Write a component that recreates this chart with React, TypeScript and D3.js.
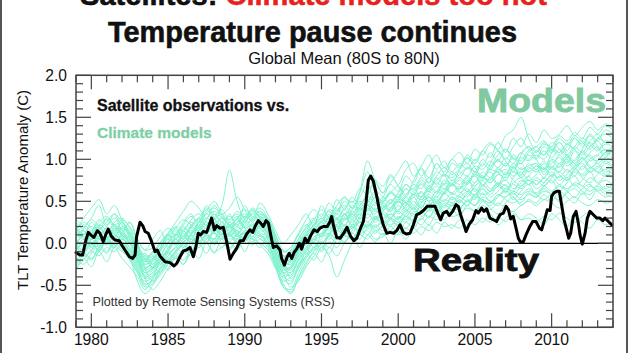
import React from 'react';
import * as d3 from 'd3';

const W = 628;
const H = 353;

const xTickYears = [1980, 1985, 1990, 1995, 2000, 2005, 2010];
const yTickValues = [-1, -0.5, 0, 0.5, 1, 1.5, 2];
const yTickLabels = ['-1.0', '-0.5', '0.0', '0.5', '1.0', '1.5', '2.0'];

// RSS TLT (smoothed) observations
const rssYears = [
  1979.0, 1979.26, 1979.43, 1979.65, 1979.8, 1980.02, 1980.17, 1980.39, 1980.56, 1980.78, 1980.93,
  1981.1, 1981.32, 1981.54, 1981.82, 1981.98, 1982.19, 1982.48, 1982.69, 1982.85, 1982.95,
  1983.17, 1983.35, 1983.5, 1983.71, 1983.93, 1984.15, 1984.3, 1984.47, 1984.8, 1985.13,
  1985.39, 1985.56, 1985.78, 1986.0, 1986.21, 1986.43, 1986.65, 1986.82, 1986.97, 1987.12,
  1987.3, 1987.52, 1987.69, 1987.84, 1988.02, 1988.17, 1988.39, 1988.6, 1988.82, 1989.04,
  1989.25, 1989.47, 1989.69, 1989.9, 1990.12, 1990.34, 1990.52, 1990.67, 1990.88, 1991.04,
  1991.21, 1991.38, 1991.54, 1991.69, 1991.86, 1992.08, 1992.3, 1992.4, 1992.58, 1992.77,
  1992.9, 1993.06, 1993.21, 1993.38, 1993.56, 1993.71, 1993.93, 1994.1, 1994.32, 1994.51,
  1994.73, 1994.9, 1995.12, 1995.38, 1995.56, 1995.66, 1995.8, 1995.99, 1996.21, 1996.45,
  1996.66, 1996.88, 1997.1, 1997.3, 1997.52, 1997.73, 1997.9, 1998.05, 1998.21, 1998.38,
  1998.58, 1998.79, 1999.01, 1999.25, 1999.48, 1999.7, 1999.9, 2000.12, 2000.33, 2000.55,
  2000.77, 2000.99, 2001.2, 2001.42, 2001.64, 2001.9, 2002.18, 2002.4, 2002.62, 2002.77,
  2002.94, 2003.16, 2003.33, 2003.55, 2003.77, 2003.92, 2004.07, 2004.25, 2004.42, 2004.64,
  2004.85, 2005.07, 2005.22, 2005.44, 2005.59, 2005.76, 2005.98, 2006.2, 2006.42, 2006.63,
  2006.85, 2007.03, 2007.18, 2007.33, 2007.5, 2007.68, 2007.83, 2007.98, 2008.16, 2008.33,
  2008.55, 2008.77, 2008.98, 2009.2, 2009.35, 2009.57, 2009.72, 2009.9, 2010.0, 2010.15,
  2010.33, 2010.5, 2010.65, 2010.81, 2010.98, 2011.11, 2011.24, 2011.41, 2011.59, 2011.74,
  2011.85, 2012.0, 2012.18, 2012.33, 2012.5, 2012.72, 2012.94, 2013.15, 2013.33, 2013.48,
  2013.7, 2013.91,
];
const rssValues = [
  -0.11, -0.14, -0.14, 0.04, 0.13, 0.09, 0.07, 0.15, 0.12, 0.02, 0.1,
  0.17, 0.08, 0.04, 0.03, -0.02, -0.08, -0.16, -0.18, -0.14, 0.08,
  0.25, 0.21, 0.14, 0.12, 0.02, -0.1, -0.08, -0.15, -0.22, -0.23,
  -0.27, -0.24, -0.16, -0.09, -0.08, -0.05, -0.16, -0.04, 0.12, 0.1,
  0.14, 0.13, 0.22, 0.3, 0.16, 0.21, 0.18, 0.19, 0.02, -0.19,
  -0.12, -0.06, 0.03, 0.03, 0.11, 0.16, 0.13, 0.2, 0.27, 0.24,
  0.2, 0.27, 0.24, 0.1, -0.05, -0.03, -0.08, -0.18, -0.26, -0.16,
  -0.12, -0.18, -0.11, -0.07, 0.0, -0.07, 0.06, 0.01, 0.1, 0.16,
  0.14, 0.18, 0.2, 0.2, 0.26, 0.32, 0.2, 0.07, 0.06, 0.12,
  0.19, 0.09, 0.03, 0.06, 0.17, 0.26, 0.48, 0.75, 0.8, 0.74,
  0.58, 0.38, 0.23, 0.12, 0.13, 0.12, 0.15, 0.22, 0.13, 0.11,
  0.12, 0.22, 0.34, 0.36, 0.39, 0.44, 0.44, 0.44, 0.34, 0.28,
  0.36, 0.38, 0.33, 0.38, 0.46, 0.44, 0.34, 0.24, 0.14, 0.23,
  0.28, 0.39, 0.36, 0.42, 0.38, 0.41, 0.3, 0.28, 0.26, 0.34,
  0.36, 0.44, 0.4, 0.29, 0.32, 0.18, 0.06, 0.01, 0.02, 0.1,
  0.19, 0.26, 0.26, 0.18, 0.16, 0.3, 0.4, 0.39, 0.56, 0.6,
  0.62, 0.62, 0.46, 0.28, 0.16, 0.06, 0.12, 0.32, 0.38, 0.24,
  0.1, -0.01, 0.12, 0.3, 0.38, 0.34, 0.3, 0.3, 0.27, 0.3,
  0.26, 0.22,
];

// Climate model runs, half-yearly from 1979.0 to 2014.0
const modelStartYear = 1979;
const modelStep = 0.5;
const modelA = [
  0.10, 0.22, 0.15, 0.28, 0.20, 0.12, 0.25, 0.05, -0.10, -0.30,
  -0.20, -0.05, 0.10, 0.18, 0.05, 0.20, 0.30, 0.22, 0.35, 0.25,
  0.20, 0.30, 0.35, 0.28, 0.38, 0.25, 0.05, -0.15, -0.10, 0.05,
  0.20, 0.30, 0.25, 0.40, 0.35, 0.50, 0.42, 0.55, 0.70, 0.50,
  0.55, 0.70, 0.62, 0.80, 0.72, 0.90, 0.78, 0.95, 0.85, 1.00,
  0.92, 1.05, 0.98, 1.10, 1.02, 1.20, 1.08, 1.25, 1.15, 1.30,
  1.20, 1.35, 1.25, 1.30, 1.40, 1.28, 1.38, 1.45, 1.35, 1.42, 1.38,
];
const modelB = [
  -0.25, -0.15, -0.20, -0.05, -0.12, 0.00, -0.08, -0.20, -0.35, -0.45,
  -0.40, -0.30, -0.20, -0.25, -0.10, -0.15, -0.05, 0.00, -0.10, -0.05,
  0.00, -0.08, 0.05, -0.02, 0.05, -0.05, -0.25, -0.40, -0.35, -0.25,
  -0.15, -0.05, -0.10, 0.02, -0.05, 0.08, 0.05, 0.10, 0.15, 0.05,
  0.08, 0.15, 0.10, 0.18, 0.12, 0.20, 0.15, 0.25, 0.20, 0.22,
  0.18, 0.28, 0.22, 0.30, 0.25, 0.32, 0.26, 0.35, 0.28, 0.30,
  0.25, 0.32, 0.28, 0.36, 0.30, 0.25, 0.32, 0.38, 0.30, 0.28, 0.32,
];
const modelC = [
  0.05, -0.05, 0.12, 0.20, 0.08, 0.15, 0.18, 0.10, -0.15, -0.35,
  -0.30, -0.15, -0.10, 0.05, 0.12, 0.02, 0.15, 0.25, 0.18, 0.10,
  0.20, 0.15, 0.10, 0.22, 0.25, 0.15, -0.10, -0.30, -0.28, -0.10,
  0.05, 0.15, 0.08, 0.20, 0.28, 0.15, 0.22, 0.35, 0.30, 0.42,
  0.35, 0.30, 0.45, 0.38, 0.50, 0.42, 0.55, 0.48, 0.60, 0.52,
  0.58, 0.65, 0.55, 0.70, 0.62, 0.68, 0.75, 0.65, 0.72, 0.80,
  0.70, 0.78, 0.85, 0.75, 0.82, 0.90, 0.80, 0.88, 0.95, 0.85, 0.90,
];
const modelD = [
  -0.15, -0.05, 0.05, -0.02, 0.10, 0.15, 0.05, 0.00, -0.20, -0.40,
  -0.35, -0.25, -0.15, -0.05, 0.05, 0.15, 0.08, 0.20, 0.25, 0.15,
  0.10, 0.18, 0.25, 0.15, 0.20, 0.10, -0.15, -0.35, -0.30, -0.15,
  -0.05, 0.08, 0.12, 0.25, 0.15, 0.28, 0.35, 0.25, 0.40, 0.35,
  0.45, 0.38, 0.50, 0.42, 0.55, 0.60, 0.50, 0.62, 0.58, 0.70,
  0.65, 0.72, 0.80, 0.70, 0.78, 0.85, 0.75, 0.90, 0.82, 0.95,
  0.88, 0.98, 0.90, 1.05, 0.95, 1.10, 1.00, 1.08, 1.15, 1.05, 1.10,
];
const modelE = [
  0.20, 0.10, 0.25, 0.15, 0.30, 0.22, 0.15, 0.05, -0.05, -0.20,
  -0.15, -0.25, -0.10, 0.05, -0.05, 0.10, 0.20, 0.15, 0.30, 0.40,
  0.28, 0.35, 0.25, 0.38, 0.30, 0.20, 0.00, -0.20, -0.25, -0.05,
  0.10, 0.02, 0.20, 0.15, 0.30, 0.20, 0.38, 0.30, 0.45, 0.40,
  0.30, 0.42, 0.50, 0.40, 0.35, 0.48, 0.55, 0.45, 0.60, 0.70,
  0.62, 0.55, 0.68, 0.75, 0.65, 0.72, 0.60, 0.78, 0.85, 0.75,
  0.82, 0.90, 0.80, 0.95, 0.85, 0.92, 1.02, 0.90, 0.98, 1.08, 1.00,
];
const modelF = [
  -0.10, 0.00, -0.08, 0.05, 0.15, 0.08, 0.20, 0.12, -0.05, -0.25,
  -0.18, -0.08, 0.05, 0.00, 0.15, 0.25, 0.18, 0.35, 0.28, 0.45,
  0.87, 0.50, 0.30, 0.40, 0.32, 0.28, 0.05, -0.15, -0.20, -0.08,
  0.08, 0.20, 0.30, 0.22, 0.35, 0.28, 0.40, 0.50, 0.45, 0.55,
  0.48, 0.60, 0.52, 0.65, 0.58, 0.70, 0.62, 0.78, 0.70, 0.85,
  0.78, 0.90, 0.82, 0.95, 0.88, 1.00, 0.92, 1.05, 0.98, 1.10,
  1.02, 1.15, 1.08, 1.20, 1.10, 1.25, 1.15, 1.22, 1.30, 1.20, 1.25,
];
const modelG = [
  0.00, 0.08, -0.05, 0.10, 0.05, -0.02, 0.08, -0.15, -0.45, -0.60,
  -0.50, -0.35, -0.20, -0.10, 0.00, -0.08, 0.05, 0.12, 0.05, 0.15,
  0.08, 0.15, 0.05, 0.12, 0.18, 0.05, -0.25, -0.50, -0.55, -0.35,
  -0.18, -0.05, 0.05, 0.12, 0.05, 0.18, 0.12, 0.25, 0.20, 0.30,
  0.25, 0.35, 0.28, 0.40, 0.32, 0.45, 0.38, 0.50, 0.42, 0.55,
  0.48, 0.60, 0.52, 0.65, 0.55, 0.62, 0.70, 0.58, 0.68, 0.75,
  0.65, 0.72, 0.80, 0.70, 0.78, 0.68, 0.75, 0.85, 0.72, 0.80, 0.78,
];
const modelH = [
  -0.30, -0.20, -0.10, -0.15, -0.05, -0.10, 0.00, -0.12, -0.30, -0.42,
  -0.38, -0.20, -0.12, -0.18, -0.05, 0.05, -0.02, 0.10, 0.02, 0.12,
  0.05, 0.10, 0.20, 0.12, 0.08, 0.00, -0.20, -0.38, -0.45, -0.30,
  -0.12, -0.20, -0.05, -0.15, -0.40, -0.20, 0.00, 0.10, 0.05, 0.15,
  0.10, 0.20, 0.12, 0.25, 0.18, 0.30, 0.22, 0.35, 0.28, 0.40,
  0.32, 0.45, 0.38, 0.50, 0.42, 0.35, 0.48, 0.55, 0.45, 0.52,
  0.48, 0.58, 0.50, 0.62, 0.55, 0.48, 0.60, 0.52, 0.65, 0.58, 0.55,
];
const modelI = [
  0.15, 0.25, 0.18, 0.08, 0.20, 0.30, 0.22, 0.12, -0.10, -0.20,
  -0.10, 0.00, 0.10, 0.05, 0.18, 0.12, 0.25, 0.40, 0.30, 0.20,
  0.15, 0.25, 0.32, 0.40, 0.30, 0.22, 0.00, -0.18, -0.15, 0.00,
  0.12, 0.25, 0.18, 0.30, 0.25, 0.35, 0.40, 0.60, 0.85, 0.60,
  0.45, 0.38, 0.50, 0.45, 0.58, 0.52, 0.65, 0.60, 0.72, 0.68,
  0.75, 0.70, 0.82, 0.78, 0.88, 0.85, 0.95, 0.90, 1.02, 0.98,
  1.05, 1.00, 1.12, 1.08, 1.18, 1.12, 1.05, 1.15, 1.22, 1.10, 1.15,
];
const modelJ = [
  0.05, -0.02, 0.10, 0.18, 0.12, 0.22, 0.10, 0.02, -0.18, -0.30,
  -0.22, -0.10, 0.02, 0.10, 0.20, 0.12, 0.25, 0.18, 0.28, 0.35,
  0.25, 0.32, 0.20, 0.30, 0.38, 0.28, 0.02, -0.22, -0.18, -0.02,
  0.10, 0.22, 0.30, 0.25, 0.38, 0.45, 0.35, 0.48, 0.40, 0.55,
  0.50, 0.62, 0.55, 0.70, 0.65, 0.78, 0.72, 0.85, 0.80, 0.95,
  0.90, 1.02, 0.95, 1.10, 1.20, 1.12, 1.28, 1.35, 1.50, 1.25,
  1.10, 1.20, 1.15, 1.28, 1.22, 1.32, 1.25, 1.38, 1.30, 1.40, 1.35,
];
const modelK = [
  -0.20, -0.10, -0.02, 0.08, 0.00, -0.05, 0.10, 0.02, -0.15, -0.35,
  -0.28, -0.15, -0.20, -0.08, 0.02, 0.10, 0.02, 0.12, 0.20, 0.08,
  0.02, 0.10, 0.05, 0.15, 0.10, 0.02, -0.18, -0.32, -0.28, -0.15,
  0.00, 0.05, 0.12, 0.05, 0.15, 0.10, 0.20, 0.15, 0.25, 0.32,
  0.28, 0.22, 0.32, 0.28, 0.38, 0.35, 0.42, 0.38, 0.48, 0.45,
  0.50, 0.45, 0.55, 0.52, 0.48, 0.58, 0.55, 0.62, 0.58, 0.65,
  0.60, 0.68, 0.62, 0.70, 0.65, 0.72, 0.68, 0.62, 0.70, 0.75, 0.70,
];
const modelL = [
  0.10, 0.18, 0.28, 0.20, 0.12, 0.25, 0.30, 0.18, 0.00, -0.15,
  -0.12, 0.02, 0.12, 0.20, 0.15, 0.28, 0.35, 0.25, 0.18, 0.30,
  0.22, 0.15, 0.28, 0.35, 0.25, 0.18, -0.02, -0.25, -0.22, -0.05,
  0.08, 0.18, 0.25, 0.35, 0.28, 0.40, 0.32, 0.45, 0.55, 0.48,
  0.42, 0.52, 0.48, 0.58, 0.65, 0.55, 0.68, 0.62, 0.75, 0.70,
  0.78, 0.72, 0.85, 0.80, 0.75, 0.88, 0.82, 0.95, 0.88, 0.92,
  0.95, 0.88, 1.00, 0.95, 1.05, 0.98, 1.10, 1.02, 0.98, 1.08, 1.05,
];
const modelM = [
  -0.05, -0.12, 0.00, -0.08, 0.05, 0.12, 0.00, -0.10, -0.28, -0.50,
  -0.42, -0.28, -0.15, -0.05, -0.12, 0.00, 0.08, 0.02, 0.12, 0.05,
  0.12, 0.02, 0.08, 0.15, 0.05, 0.00, -0.20, -0.42, -0.48, -0.25,
  -0.10, 0.00, -0.08, 0.10, 0.05, 0.15, 0.20, 0.12, 0.22, 0.18,
  0.25, 0.20, 0.30, 0.25, 0.35, 0.28, 0.40, 0.35, 0.45, 0.40,
  0.42, 0.50, 0.45, 0.55, 0.50, 0.45, 0.55, 0.60, 0.52, 0.58,
  0.55, 0.62, 0.58, 0.50, 0.60, 0.65, 0.58, 0.68, 0.62, 0.55, 0.60,
];
const modelN = [
  0.25, 0.15, 0.05, 0.15, 0.25, 0.35, 0.25, 0.15, -0.02, -0.18,
  -0.10, -0.02, 0.08, 0.18, 0.28, 0.22, 0.15, 0.28, 0.38, 0.30,
  0.22, 0.30, 0.40, 0.32, 0.25, 0.20, -0.05, -0.20, -0.12, 0.02,
  0.15, 0.28, 0.20, 0.32, 0.42, 0.35, 0.30, 0.42, 0.50, 0.62,
  0.55, 0.48, 0.60, 0.70, 0.62, 0.75, 0.68, 0.80, 0.90, 0.82,
  0.88, 0.95, 0.85, 1.00, 0.92, 1.05, 1.12, 1.00, 1.08, 1.15,
  1.08, 1.18, 1.12, 1.05, 1.15, 1.25, 1.18, 1.30, 1.22, 1.35, 1.30,
];
const modelO = [
  -0.12, -0.05, 0.05, 0.12, 0.02, 0.08, 0.15, 0.00, -0.22, -0.38,
  -0.32, -0.18, -0.08, 0.02, 0.08, 0.18, 0.10, 0.05, 0.15, 0.22,
  0.15, 0.08, 0.15, 0.22, 0.12, 0.08, -0.12, -0.30, -0.35, -0.18,
  -0.05, 0.05, 0.18, 0.10, 0.22, 0.30, 0.22, 0.28, 0.35, 0.28,
  0.35, 0.30, 0.40, 0.48, 0.40, 0.50, 0.45, 0.55, 0.50, 0.60,
  0.55, 0.62, 0.58, 0.68, 0.62, 0.72, 0.68, 0.62, 0.75, 0.70,
  0.78, 0.72, 0.82, 0.78, 0.88, 0.80, 0.92, 0.85, 0.90, 0.98, 0.92,
];
const modelP = [
  0.08, 0.15, 0.05, 0.20, 0.28, 0.18, 0.10, 0.00, -0.12, -0.28,
  -0.25, -0.15, 0.00, 0.12, 0.05, 0.20, 0.15, 0.30, 0.22, 0.12,
  0.20, 0.28, 0.18, 0.25, 0.32, 0.20, -0.08, -0.28, -0.20, -0.10,
  0.05, 0.15, 0.25, 0.18, 0.30, 0.22, 0.35, 0.42, 0.38, 0.48,
  0.40, 0.48, 0.58, 0.50, 0.60, 0.55, 0.65, 0.72, 0.65, 0.75,
  0.70, 0.80, 0.72, 0.85, 0.78, 0.90, 0.82, 0.88, 0.95, 0.85,
  0.92, 0.85, 0.98, 0.90, 1.02, 0.95, 0.88, 1.00, 1.05, 0.95, 1.00,
];
const modelQ = [
  -0.18, -0.25, -0.12, -0.02, -0.10, 0.05, -0.05, -0.15, -0.32, -0.48,
  -0.45, -0.30, -0.22, -0.12, -0.02, -0.10, 0.02, 0.08, -0.02, 0.08,
  0.02, -0.05, 0.08, 0.02, 0.10, -0.02, -0.22, -0.45, -0.40, -0.28,
  -0.15, -0.08, 0.02, -0.05, 0.08, 0.02, 0.12, 0.05, 0.18, 0.12,
  0.20, 0.15, 0.25, 0.18, 0.28, 0.22, 0.32, 0.28, 0.38, 0.32,
  0.35, 0.42, 0.38, 0.45, 0.40, 0.48, 0.42, 0.38, 0.45, 0.50,
  0.45, 0.52, 0.48, 0.42, 0.50, 0.55, 0.48, 0.45, 0.52, 0.48, 0.50,
];
const modelR = [
  0.18, 0.08, 0.15, 0.25, 0.32, 0.22, 0.28, 0.20, 0.05, -0.08,
  -0.05, 0.08, 0.18, 0.10, 0.22, 0.32, 0.25, 0.35, 0.42, 0.32,
  0.28, 0.38, 0.30, 0.42, 0.35, 0.28, 0.08, -0.10, -0.05, 0.10,
  0.22, 0.15, 0.28, 0.38, 0.30, 0.42, 0.50, 0.40, 0.48, 0.58,
  0.50, 0.60, 0.68, 0.58, 0.70, 0.65, 0.78, 0.70, 0.82, 0.78,
  0.85, 0.80, 0.92, 0.88, 0.98, 0.90, 1.02, 0.95, 1.08, 1.00,
  1.10, 1.05, 1.15, 1.08, 1.18, 1.12, 1.22, 1.15, 1.25, 1.20, 1.22,
];
const modelS = [
  -0.08, 0.02, 0.12, 0.05, -0.02, 0.10, 0.02, -0.08, -0.25, -0.40,
  -0.35, -0.22, -0.12, -0.05, 0.08, 0.02, 0.12, 0.22, 0.12, 0.05,
  0.12, 0.20, 0.12, 0.05, 0.15, 0.08, -0.15, -0.35, -0.38, -0.20,
  -0.08, 0.02, 0.10, 0.20, 0.12, 0.22, 0.18, 0.30, 0.25, 0.20,
  0.28, 0.35, 0.30, 0.38, 0.45, 0.38, 0.48, 0.42, 0.52, 0.48,
  0.55, 0.50, 0.58, 0.65, 0.58, 0.68, 0.62, 0.70, 0.65, 0.75,
  0.70, 0.78, 0.72, 0.80, 0.75, 0.85, 0.78, 0.72, 0.82, 0.88, 0.82,
];
const modelT = [
  0.02, 0.10, 0.20, 0.12, 0.05, 0.18, 0.12, 0.05, -0.12, -0.25,
  -0.20, -0.08, 0.05, -0.02, 0.10, 0.18, 0.28, 0.20, 0.12, 0.25,
  0.18, 0.25, 0.32, 0.25, 0.18, 0.12, -0.10, -0.25, -0.30, -0.12,
  0.02, 0.12, 0.08, 0.22, 0.18, 0.30, 0.25, 0.35, 0.42, 0.38,
  0.45, 0.40, 0.52, 0.48, 0.42, 0.55, 0.62, 0.55, 0.65, 0.60,
  0.68, 0.62, 0.72, 0.80, 0.72, 0.82, 0.78, 0.85, 0.80, 0.90,
  0.85, 0.95, 0.88, 0.92, 1.00, 0.92, 0.98, 1.05, 0.95, 1.02, 0.98,
];
const modelU = [
  -0.22, -0.12, -0.18, -0.05, 0.05, -0.02, -0.10, -0.18, -0.35, -0.52,
  -0.48, -0.32, -0.25, -0.15, -0.08, 0.02, -0.05, 0.05, 0.12, 0.02,
  -0.05, 0.05, 0.12, 0.05, 0.00, -0.08, -0.28, -0.52, -0.58, -0.40,
  -0.22, -0.10, 0.00, 0.08, 0.00, 0.10, 0.05, 0.15, 0.22, 0.15,
  0.22, 0.30, 0.25, 0.32, 0.28, 0.38, 0.32, 0.40, 0.35, 0.45,
  0.42, 0.50, 0.45, 0.52, 0.48, 0.58, 0.52, 0.48, 0.55, 0.62,
  0.58, 0.52, 0.60, 0.68, 0.62, 0.55, 0.65, 0.70, 0.62, 0.68, 0.65,
];
const modelV = [
  0.28, 0.20, 0.12, 0.22, 0.15, 0.08, 0.18, 0.08, -0.08, -0.22,
  -0.18, -0.05, 0.05, 0.15, 0.08, 0.22, 0.30, 0.42, 0.35, 0.25,
  0.32, 0.22, 0.28, 0.20, 0.30, 0.22, 0.00, -0.15, -0.20, -0.02,
  0.12, 0.22, 0.35, 0.28, 0.40, 0.32, 0.45, 0.38, 0.50, 0.45,
  0.52, 0.60, 0.55, 0.65, 0.58, 0.72, 0.65, 0.75, 0.82, 0.75,
  0.82, 0.90, 0.85, 0.78, 0.90, 0.98, 0.92, 1.02, 0.95, 1.05,
  1.00, 1.10, 1.02, 1.12, 1.05, 1.15, 1.08, 1.20, 1.12, 1.18, 1.15,
];
const modelW = [
  -0.02, -0.10, -0.18, -0.08, 0.02, -0.05, 0.05, -0.05, -0.20, -0.32,
  -0.28, -0.35, -0.18, -0.10, 0.00, 0.08, 0.00, 0.10, 0.05, 0.18,
  0.10, 0.05, 0.12, 0.18, 0.10, 0.05, -0.12, -0.28, -0.32, -0.20,
  -0.08, 0.05, 0.00, 0.12, 0.20, 0.12, 0.18, 0.25, 0.20, 0.30,
  0.22, 0.30, 0.38, 0.32, 0.42, 0.35, 0.45, 0.52, 0.45, 0.55,
  0.50, 0.58, 0.65, 0.58, 0.62, 0.70, 0.65, 0.72, 0.78, 0.70,
  0.75, 0.68, 0.78, 0.85, 0.78, 0.88, 0.82, 0.90, 0.85, 0.80, 0.85,
];
const modelX = [
  0.12, 0.05, -0.02, 0.08, 0.18, 0.10, 0.02, -0.08, -0.20, -0.35,
  -0.30, -0.20, -0.05, 0.08, 0.15, 0.05, 0.18, 0.12, 0.22, 0.30,
  0.22, 0.12, 0.22, 0.28, 0.20, 0.15, -0.05, -0.22, -0.25, -0.08,
  0.05, 0.12, 0.22, 0.30, 0.22, 0.35, 0.28, 0.38, 0.45, 0.40,
  0.48, 0.42, 0.55, 0.48, 0.58, 0.52, 0.60, 0.68, 0.60, 0.70,
  0.65, 0.75, 0.68, 0.78, 0.72, 0.82, 0.88, 0.80, 0.90, 0.85,
  0.92, 0.88, 0.95, 1.02, 0.92, 1.00, 1.08, 0.98, 1.05, 1.12, 1.08,
];
const modelY = [
  -0.05, 0.18, 0.30, 0.45, 0.22, 0.35, 0.15, 0.25, 0.05, -0.08,
  0.05, 0.15, -0.05, 0.10, 0.25, 0.35, 0.20, 0.45, 0.30, 0.15,
  0.35, 0.20, 0.45, 0.30, 0.48, 0.35, 0.15, 0.00, 0.10, 0.22,
  0.35, 0.20, 0.45, 0.30, 0.52, 0.40, 0.55, 0.45, 0.62, 0.72,
  0.60, 0.80, 0.68, 0.55, 0.75, 0.88, 0.72, 0.95, 0.82, 0.70,
  0.88, 1.02, 0.90, 0.78, 0.95, 1.10, 0.98, 0.85, 1.05, 1.15,
  1.00, 0.88, 1.08, 1.20, 1.05, 0.95, 1.12, 1.28, 1.15, 1.02, 1.18,
];
const modelZ = [
  -0.32, -0.18, -0.28, -0.10, -0.22, -0.05, -0.18, -0.28, -0.40, -0.55,
  -0.42, -0.22, -0.32, -0.15, -0.25, -0.08, -0.18, 0.00, -0.12, 0.05,
  -0.08, 0.05, -0.10, 0.08, -0.02, -0.12, -0.30, -0.48, -0.60, -0.42,
  -0.25, -0.12, -0.22, -0.05, -0.15, 0.00, 0.08, -0.05, 0.10, 0.02,
  0.12, 0.00, 0.15, 0.05, 0.18, 0.10, 0.22, 0.12, 0.25, 0.18,
  0.28, 0.20, 0.32, 0.25, 0.35, 0.22, 0.30, 0.38, 0.28, 0.35,
  0.30, 0.22, 0.35, 0.28, 0.20, 0.32, 0.25, 0.18, 0.28, 0.22, 0.25,
];
const modelAA = [
  0.15, 0.30, 0.42, 0.52, 0.35, 0.45, 0.28, 0.12, -0.08, -0.22,
  -0.15, -0.05, 0.12, 0.25, 0.38, 0.50, 0.42, 0.30, 0.45, 0.35,
  0.42, 0.55, 0.40, 0.28, 0.35, 0.30, 0.10, -0.10, -0.05, 0.12,
  0.28, 0.40, 0.32, 0.48, 0.38, 0.55, 0.48, 0.65, 0.58, 0.75,
  0.68, 0.82, 0.70, 0.88, 0.95, 0.80, 0.92, 1.05, 0.90, 1.00,
  1.08, 0.95, 1.12, 1.05, 1.18, 1.10, 1.00, 1.15, 1.25, 1.12,
  1.15, 1.22, 1.10, 1.25, 1.18, 1.28, 1.20, 1.12, 1.25, 1.30, 1.25,
];
const modelAB = [
  -0.10, 0.05, -0.05, 0.15, 0.02, 0.20, 0.08, -0.05, -0.18, -0.12,
  -0.25, -0.05, 0.10, -0.02, 0.15, 0.05, 0.22, 0.10, 0.05, 0.25,
  0.12, 0.30, 0.18, 0.08, 0.22, 0.10, -0.12, -0.18, -0.08, 0.10,
  -0.02, 0.18, 0.08, 0.25, 0.15, 0.35, 0.20, 0.32, 0.45, 0.30,
  0.42, 0.52, 0.38, 0.55, 0.45, 0.62, 0.50, 0.58, 0.70, 0.58,
  0.65, 0.78, 0.62, 0.75, 0.85, 0.70, 0.80, 0.92, 0.78, 0.88,
  0.95, 0.82, 0.92, 0.85, 0.98, 0.88, 1.02, 0.92, 0.85, 0.95, 0.90,
];
const modelAC = [
  0.22, 0.05, 0.15, -0.05, 0.10, 0.22, 0.12, 0.25, 0.02, -0.30,
  -0.45, -0.38, -0.25, -0.12, -0.20, -0.05, 0.10, 0.00, 0.18, 0.10,
  0.25, 0.12, 0.02, 0.15, 0.28, 0.18, -0.02, -0.20, -0.42, -0.30,
  -0.15, 0.02, -0.05, 0.10, 0.22, 0.10, 0.28, 0.20, 0.35, 0.25,
  0.38, 0.48, 0.35, 0.45, 0.55, 0.42, 0.58, 0.50, 0.62, 0.72,
  0.60, 0.70, 0.82, 0.68, 0.78, 0.70, 0.85, 0.75, 0.68, 0.80,
  0.88, 0.78, 0.90, 0.82, 0.75, 0.88, 0.95, 0.85, 0.92, 0.82, 0.88,
];
const modelAD = [
  -0.28, -0.12, 0.02, -0.10, 0.08, -0.05, 0.12, 0.00, -0.10, -0.42,
  -0.55, -0.45, -0.30, -0.18, -0.25, -0.10, 0.00, -0.12, 0.05, -0.05,
  0.10, 0.00, 0.15, 0.05, -0.05, 0.08, -0.10, -0.35, -0.52, -0.45,
  -0.28, -0.15, -0.02, -0.12, 0.05, 0.15, 0.05, 0.18, 0.10, 0.22,
  0.15, 0.28, 0.20, 0.32, 0.25, 0.38, 0.30, 0.45, 0.35, 0.48,
  0.40, 0.52, 0.45, 0.60, 0.50, 0.55, 0.65, 0.52, 0.62, 0.70,
  0.58, 0.68, 0.75, 0.62, 0.72, 0.80, 0.68, 0.78, 0.72, 0.65, 0.70,
];
const modelAE = [
  0.05, 0.12, 0.02, -0.08, 0.05, 0.15, 0.25, 0.10, -0.05, -0.18,
  -0.28, -0.15, 0.00, 0.10, 0.02, 0.12, 0.25, 0.38, 0.50, 0.35,
  0.20, 0.10, 0.25, 0.35, 0.42, 0.30, 0.10, -0.08, -0.12, 0.05,
  0.18, 0.28, 0.40, 0.32, 0.45, 0.55, 0.42, 0.62, 0.98, 0.75,
  0.60, 0.72, 0.85, 0.98, 0.80, 0.92, 1.05, 0.88, 0.98, 0.85,
  0.95, 0.88, 1.00, 0.92, 1.08, 0.98, 1.12, 1.02, 0.95, 1.08,
  1.15, 1.05, 1.20, 1.12, 1.02, 1.15, 1.25, 1.18, 1.10, 1.22, 1.18,
];
const modelAF = [
  0.00, -0.15, -0.08, 0.05, -0.02, 0.08, -0.05, -0.12, -0.22, -0.15,
  -0.30, -0.20, -0.08, 0.05, -0.05, 0.10, 0.18, 0.08, 0.00, 0.12,
  0.20, 0.10, 0.02, 0.15, 0.22, 0.12, -0.05, -0.15, -0.22, -0.10,
  0.05, -0.05, 0.10, 0.18, 0.08, 0.02, 0.15, 0.25, 0.18, 0.28,
  0.38, 0.30, 0.22, 0.35, 0.42, 0.32, 0.40, 0.48, 0.38, 0.45,
  0.52, 0.45, 0.58, 0.50, 0.45, 0.55, 0.62, 0.55, 0.48, 0.60,
  0.55, 0.65, 0.58, 0.52, 0.62, 0.70, 0.62, 0.58, 0.68, 0.62, 0.65,
];
const modelRuns = [
  modelA, modelB, modelC, modelD, modelE, modelF, modelG, modelH, modelI, modelJ, modelK, modelL,
  modelM, modelN, modelO, modelP, modelQ, modelR, modelS, modelT, modelU, modelV, modelW, modelX,
  modelY, modelZ, modelAA, modelAB, modelAC, modelAD, modelAE, modelAF,
];

const FONT = "'Liberation Sans', Arial, Helvetica, sans-serif";

export default function App() {
  const left = 76, right = 613, top = 75.3, bottom = 327.3;
  const x = d3.scaleLinear().domain([1979, 2014]).range([left, right]);
  const y = d3.scaleLinear().domain([-1, 2]).range([bottom, top]);

  const modelLine = d3
    .line<number>()
    .x((_, i) => x(modelStartYear + i * modelStep))
    .y((d) => y(d))
    .curve(d3.curveCatmullRom.alpha(0.5));

  const rssLine = d3
    .line<number>()
    .x((_, i) => x(rssYears[i]))
    .y((d) => y(d))
    .curve(d3.curveLinear);

  const minorYears = d3.range(1979, 2015);
  const minorY = d3.range(-10, 21).map((v) => v / 10);

  const axisColor = '#444';

  return (
    <svg
      width={W}
      height={H}
      style={{ position: 'absolute', left: 0, top: 0, background: '#fff' }}
      fontFamily={FONT}
    >
      <defs>
        <clipPath id="plotclip">
          <rect x={left} y={top} width={right - left} height={bottom - top} />
        </clipPath>
      </defs>
      <rect x={0} y={0} width={W} height={H} fill="#fff" />
      {/* frame */}
      <line x1={1} x2={1} y1={0} y2={H} stroke="#555" strokeWidth={2} />
      <line x1={627} x2={627} y1={0} y2={H} stroke="#555" strokeWidth={2} />

      {/* titles */}
      <text x={80} y={4.5} fontSize={29} fontWeight="bold" textLength={467} lengthAdjust="spacingAndGlyphs" stroke="#000" strokeWidth={0.5}>
        <tspan fill="#111">Satellites: </tspan>
        <tspan fill="#e8211d" stroke="#e8211d">Climate models too hot</tspan>
      </text>
      <text x={108} y={41.5} fontSize={29} fontWeight="bold" fill="#111" stroke="#111" strokeWidth={0.6} textLength={409} lengthAdjust="spacingAndGlyphs">
        Temperature pause continues
      </text>
      <text x={344} y={64} fontSize={16.5} textAnchor="middle" fill="#111">
        Global Mean (80S to 80N)
      </text>

      {/* model runs */}
      <g clipPath="url(#plotclip)">
        {modelRuns.map((run, i) => (
          <path key={i} d={modelLine(run) || ''} fill="none" stroke="#7ff2cf" strokeWidth={1} />
        ))}
      </g>

      {/* zero line */}
      <line x1={left} x2={right} y1={y(0)} y2={y(0)} stroke="#000" strokeWidth={1.3} />

      {/* observations */}
      <path d={rssLine(rssValues) || ''} fill="none" stroke="#000" strokeWidth={3} strokeLinejoin="round" strokeLinecap="round" />

      {/* axes frame */}
      <rect x={left} y={top} width={right - left} height={bottom - top} fill="none" stroke={axisColor} strokeWidth={1.5} />

      {/* x ticks */}
      {minorYears.map((yr) => {
        const major = xTickYears.includes(yr);
        const len = major ? 14 : 7;
        return (
          <g key={'xt' + yr}>
            <line x1={x(yr)} x2={x(yr)} y1={bottom} y2={bottom - len} stroke={axisColor} strokeWidth={1.2} />
            <line x1={x(yr)} x2={x(yr)} y1={top} y2={top + len} stroke={axisColor} strokeWidth={1.2} />
          </g>
        );
      })}
      {xTickYears.map((yr) => (
        <text key={'xl' + yr} x={x(yr)} y={345} fontSize={15.7} textAnchor="middle" fill="#111">
          {yr}
        </text>
      ))}

      {/* y ticks */}
      {minorY.map((v, i) => {
        const major = i % 5 === 0;
        const len = major ? 15 : 7;
        return (
          <g key={'yt' + i}>
            <line x1={left} x2={left + len} y1={y(v)} y2={y(v)} stroke={axisColor} strokeWidth={1.2} />
            <line x1={right} x2={right - len} y1={y(v)} y2={y(v)} stroke={axisColor} strokeWidth={1.2} />
          </g>
        );
      })}
      {yTickValues.map((v, i) => (
        <text key={'yl' + i} x={67} y={y(v)} dy="0.36em" fontSize={15.6} textAnchor="end" fill="#111">
          {yTickLabels[i]}
        </text>
      ))}
      <text transform={`translate(28, 190) rotate(-90)`} fontSize={15} textAnchor="middle" fill="#111">
        TLT Temperature Anomaly (C)
      </text>

      {/* annotations */}
      <text x={97} y={110.7} fontSize={16} fontWeight="bold" fill="#111" stroke="#111" strokeWidth={0.3}>
        Satellite observations vs.
      </text>
      <text x={97} y={138.3} fontSize={15.5} fontWeight="bold" fill="#7fcfa6" stroke="#7fcfa6" strokeWidth={0.3}>
        Climate models
      </text>
      <text x={477} y={111.7} fontSize={33} fontWeight="bold" fill="#80c9a0" stroke="#80c9a0" strokeWidth={0.8} textLength={129} lengthAdjust="spacingAndGlyphs">
        Models
      </text>
      <text x={413} y={270.7} fontSize={32} fontWeight="bold" fill="#111" stroke="#111" strokeWidth={0.8} textLength={126} lengthAdjust="spacingAndGlyphs">
        Reality
      </text>
      <text x={92.6} y={306} fontSize={12.6} fill="#333">
        Plotted by Remote Sensing Systems (RSS)
      </text>
    </svg>
  );
}
